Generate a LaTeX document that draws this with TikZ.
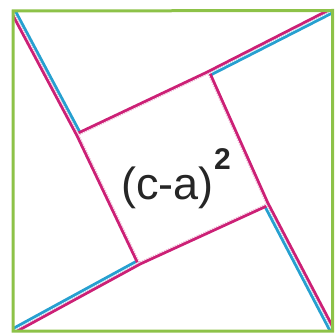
\documentclass[tikz,border=0pt]{standalone}
\usepackage{fontspec}
\setmainfont{Liberation Sans}
\definecolor{mag}{RGB}{204,32,118}
\definecolor{cya}{RGB}{38,160,208}
\definecolor{grn}{RGB}{141,194,72}
\begin{document}
\begin{tikzpicture}[x=1pt,y=-1pt,
  outer/.style={draw=grn,line width=3pt},
  cyaband/.style={draw=cya,line width=7pt,line join=miter},
  magband/.style={draw=mag,line width=7pt,line join=miter},
  gapline/.style={draw=white,line width=1.2pt,line join=miter},
  lbl/.style={inner sep=0pt,font=\fontsize{45}{45}\selectfont,text=black!85},
  suplbl/.style={inner sep=0pt,font=\fontsize{30}{30}\selectfont\bfseries,text=black!85}]
\useasboundingbox (0,0) rectangle (334,334);
\coordinate (TL) at (13,11);
\coordinate (TR) at (332.5,10.5);
\coordinate (BR) at (332.5,331);
\coordinate (BL) at (13,331);
\coordinate (P1) at (79,135);
\coordinate (P2) at (208,74);
\coordinate (P3) at (266,204);
\coordinate (P4) at (139.5,262);
% top triangle
\begin{scope}
\clip (TL) -- (P1) -- (P2) -- (TR) -- cycle;
\draw[cyaband] (TL) -- (P1);
\draw[magband] (P1) -- (P2) -- (TR);
\draw[gapline] (TL) -- (P1) -- (P2) -- (TR);
\end{scope}
% right triangle
\begin{scope}
\clip (TR) -- (P2) -- (P3) -- (BR) -- cycle;
\draw[cyaband] (TR) -- (P2);
\draw[magband] (P2) -- (P3) -- (BR);
\draw[gapline] (TR) -- (P2) -- (P3) -- (BR);
\end{scope}
% bottom triangle
\begin{scope}
\clip (BR) -- (P3) -- (P4) -- (BL) -- cycle;
\draw[cyaband] (BR) -- (P3);
\draw[magband] (P3) -- (P4) -- (BL);
\draw[gapline] (BR) -- (P3) -- (P4) -- (BL);
\end{scope}
% left triangle
\begin{scope}
\clip (BL) -- (P4) -- (P1) -- (TL) -- cycle;
\draw[cyaband] (BL) -- (P4);
\draw[magband] (P4) -- (P1) -- (TL);
\draw[gapline] (BL) -- (P4) -- (P1) -- (TL);
\end{scope}
% outer square
\draw[outer] (TL) -- (TR) -- (BR) -- (BL) -- cycle;
% label
\node[lbl,anchor=base west] (t) at (121,199) {(c-a)};
\node[suplbl,anchor=base west] (s) at (214,169) {2};
\end{tikzpicture}
\end{document}
